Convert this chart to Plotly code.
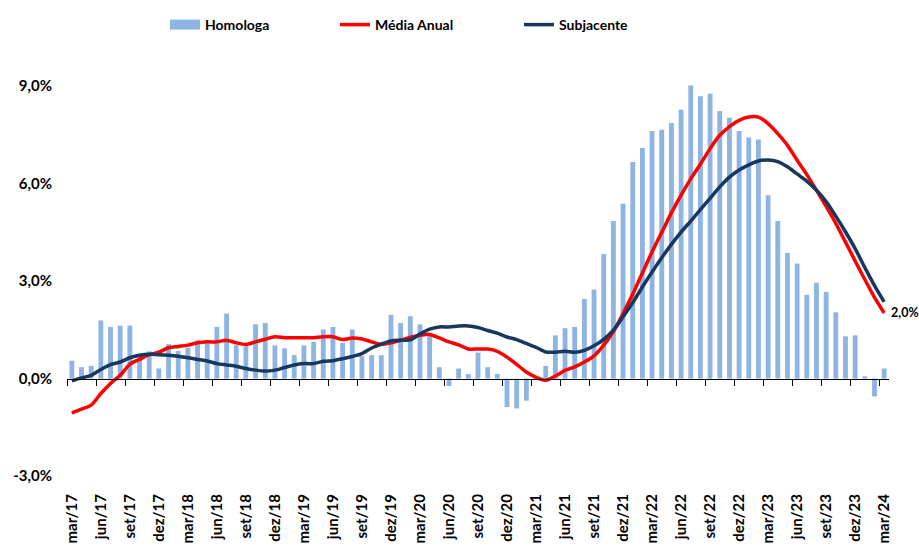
import plotly.graph_objects as go

month_names = ["jan", "fev", "mar", "abr", "mai", "jun", "jul", "ago", "set", "out", "nov", "dez"]
months = []
for k in range(85):
    m = (2 + k) % 12
    y = 17 + (2 + k) // 12
    months.append(f"{month_names[m]}/{y:02d}")

homologa = [0.55, 0.35, 0.39, 1.79, 1.59, 1.63, 1.63, 0.75, 0.84, 0.31,
            1.06, 0.85, 0.95, 1.18, 1.13, 1.59, 2.00, 1.03, 0.99, 1.67,
            1.71, 1.02, 0.93, 0.72, 1.02, 1.13, 1.51, 1.59, 1.10, 1.51,
            0.69, 0.72, 0.72, 1.96, 1.71, 1.92, 1.67, 1.38, 0.35, -0.23,
            0.31, 0.14, 0.80, 0.35, 0.14, -0.88, -0.92, -0.68, 0.02, 0.39,
            1.33, 1.55, 1.59, 2.45, 2.74, 3.83, 4.85, 5.38, 6.67, 7.10,
            7.62, 7.66, 7.87, 8.28, 9.02, 8.69, 8.77, 8.24, 8.03, 7.62,
            7.42, 7.36, 5.64, 4.85, 3.87, 3.54, 2.58, 2.95, 2.67, 2.04,
            1.30, 1.33, 0.07, -0.55, 0.31]

media_anual = [-1.06, -0.94, -0.82, -0.46, -0.15, 0.10, 0.44, 0.59, 0.74, 0.81,
               0.95, 0.99, 1.03, 1.10, 1.13, 1.13, 1.18, 1.10, 1.05, 1.13,
               1.21, 1.29, 1.26, 1.26, 1.26, 1.26, 1.29, 1.29, 1.20, 1.25,
               1.22, 1.13, 1.05, 1.10, 1.18, 1.27, 1.33, 1.36, 1.25, 1.13,
               1.04, 0.91, 0.91, 0.91, 0.84, 0.66, 0.44, 0.20, 0.04, -0.05,
               0.08, 0.25, 0.36, 0.51, 0.70, 1.03, 1.45, 2.00, 2.60, 3.25,
               3.90, 4.50, 5.10, 5.65, 6.15, 6.60, 7.08, 7.49, 7.76, 7.95,
               8.05, 8.05, 7.85, 7.54, 7.18, 6.72, 6.28, 5.80, 5.30, 4.78,
               4.20, 3.62, 3.05, 2.50, 2.02]

subjacente = [-0.07, 0.02, 0.10, 0.28, 0.43, 0.51, 0.64, 0.72, 0.75, 0.73,
              0.72, 0.69, 0.64, 0.59, 0.54, 0.46, 0.42, 0.38, 0.31, 0.26,
              0.23, 0.26, 0.34, 0.42, 0.46, 0.46, 0.53, 0.55, 0.61, 0.68,
              0.77, 0.94, 1.06, 1.16, 1.18, 1.19, 1.37, 1.52, 1.59, 1.59,
              1.62, 1.62, 1.57, 1.48, 1.40, 1.28, 1.20, 1.08, 0.96, 0.82,
              0.81, 0.84, 0.81, 0.87, 1.01, 1.21, 1.49, 1.90, 2.34, 2.82,
              3.28, 3.72, 4.13, 4.51, 4.85, 5.20, 5.55, 5.90, 6.20, 6.42,
              6.58, 6.70, 6.73, 6.68, 6.52, 6.30, 6.08, 5.80, 5.45, 5.00,
              4.52, 4.00, 3.42, 2.86, 2.36]

y_ticks = [-3, 0, 3, 6, 9]
y_tick_text = [f"{v:.1f}%".replace(".", ",") for v in y_ticks]

idx = list(range(len(months)))
label_idx = idx[::3]
label_text = [months[i] for i in label_idx]
boundary_ticks = [i - 0.5 for i in label_idx]

BAR = "#8DB4E2"
RED = "#FF0000"
NAVY = "#17375E"
FONT = "Lato"

W, H = 919, 552

fig = go.Figure()
fig.add_trace(go.Bar(x=idx, y=homologa, name="Homologa", marker=dict(color=BAR, line=dict(width=0)),
                     showlegend=False, hoverinfo="skip"))
# legend entry for bars drawn as a wide block
fig.add_trace(go.Scatter(x=[None], y=[None], mode="lines", name="Homologa", legend="legend",
                         line=dict(color=BAR, width=12)))
fig.add_trace(go.Scatter(x=idx, y=media_anual, name="Média Anual", mode="lines", xaxis="x2",
                         legend="legend2",
                         line=dict(color=RED, width=3.5, shape="spline", smoothing=0.8)))
fig.add_trace(go.Scatter(x=idx, y=subjacente, name="Subjacente", mode="lines", xaxis="x2",
                         legend="legend3",
                         line=dict(color=NAVY, width=3.5, shape="spline", smoothing=0.8)))

last = media_anual[-1]
fig.add_annotation(x=idx[-1], y=last, xref="x", yref="y",
                   text=f"{last:.1f}%".replace(".", ","), showarrow=False,
                   xanchor="left", yanchor="middle", xshift=5,
                   font=dict(family=FONT, size=12.5, color="#000000", weight="bold"))

xr = [-0.5, len(months) - 0.5]
yr = [-3, 9.5]
zero_pos = (0 - yr[0]) / (yr[1] - yr[0])


def legend_at(px):
    return dict(orientation="h", xref="container", yref="container",
                x=px / W, y=1 - 25 / H, xanchor="left", yanchor="middle",
                font=dict(family=FONT, size=14, color="#000000", weight="bold"),
                bgcolor="rgba(0,0,0,0)", borderwidth=0, itemwidth=30)


fig.update_layout(
    width=W, height=H,
    margin=dict(l=67, r=30, t=70, b=76, autoexpand=False),
    paper_bgcolor="white", plot_bgcolor="white",
    bargap=0.5,
    separators=",.",
    font=dict(family=FONT, color="#000000"),
    showlegend=True,
    legend=legend_at(165),
    legend2=legend_at(335),
    legend3=legend_at(519),
    xaxis=dict(range=xr, autorange=False, automargin=False, tickmode="array", tickvals=label_idx,
               ticktext=label_text, tickangle=-90, showline=False, showgrid=False,
               zeroline=False, ticks="", ticklabelstandoff=14,
               tickfont=dict(family=FONT, size=15, color="#000000", weight="bold")),
    xaxis2=dict(overlaying="x", range=xr, autorange=False, automargin=False, anchor="free",
                position=zero_pos, side="bottom",
                showline=True, linecolor="#000000", linewidth=1, ticks="outside", ticklen=6,
                tickcolor="#000000", tickwidth=1, tickmode="array", tickvals=boundary_ticks,
                showticklabels=False, showgrid=False, zeroline=False),
    yaxis=dict(range=yr, autorange=False, automargin=False, tickmode="array", tickvals=y_ticks,
               ticktext=y_tick_text,
               showgrid=False, zeroline=False, showline=False, ticks="", ticklabelstandoff=14,
               tickfont=dict(family=FONT, size=15, color="#000000", weight="bold")),
)

fig.write_html(
    "out.html",
    config={"displayModeBar": False},
    post_script="document.body.style.margin='0';document.body.style.overflow='hidden';",
)
